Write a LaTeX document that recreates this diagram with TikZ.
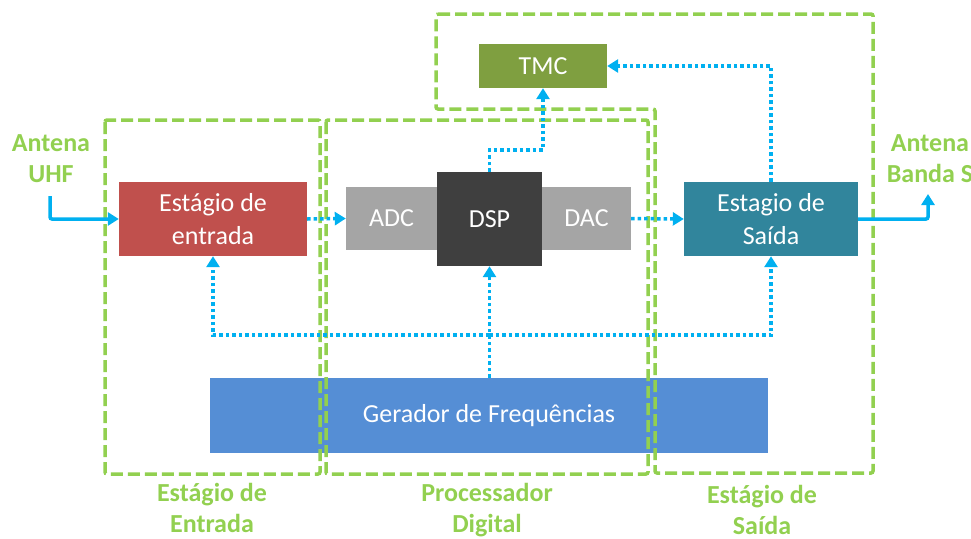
\documentclass[tikz,border=0pt]{standalone}
\usepackage{fontspec}
\setmainfont{Carlito}
\usetikzlibrary{arrows.meta}
\definecolor{grn}{HTML}{92D050}
\definecolor{sky}{HTML}{00B0F0}
\definecolor{redbox}{HTML}{C0504D}
\definecolor{graybox}{HTML}{A5A5A5}
\definecolor{darkbox}{HTML}{3F3F3F}
\definecolor{tealbox}{HTML}{31859C}
\definecolor{olivebox}{HTML}{7F9F40}
\definecolor{bluebox}{HTML}{558ED5}
\tikzset{
  blk/.style={rectangle, inner sep=0pt, text=white, align=center,
    font=\fontsize{26}{33}\selectfont},
  grpbox/.style={draw=grn, line width=3.5pt, dash pattern=on 12pt off 5pt, rounded corners=2pt},
  lbl/.style={text=grn, align=center, font=\fontsize{26}{31}\selectfont\bfseries},
  dotline/.style={draw=sky, line width=3.5pt, dash pattern=on 3.5pt off 3pt,
    -{Triangle[width=13pt,length=11pt]}},
  solline/.style={draw=sky, line width=3.5pt, rounded corners=2pt,
    -{Triangle[width=13pt,length=11pt]}}
}
\begin{document}
\begin{tikzpicture}[x=1pt,y=-1pt]
\useasboundingbox (0,0) rectangle (971,538);
% blocks
\node[blk, fill=redbox, minimum width=188pt, minimum height=74pt] (in) at (213,219) {Estágio de\\entrada};
\node[blk, fill=graybox, minimum width=91pt, minimum height=63pt] (adc) at (391.5,218.5) {ADC};
\node[blk, fill=graybox, minimum width=89pt, minimum height=63pt] (dac) at (586.5,218.5) {DAC};
\node[blk, fill=darkbox, minimum width=105pt, minimum height=94pt] (dsp) at (489.5,219) {DSP};
\node[blk, fill=tealbox, minimum width=174pt, minimum height=74pt] (out) at (771,219) {Estagio de\\Saída};
\node[blk, fill=olivebox, minimum width=128pt, minimum height=44pt] (tmc) at (543,66) {TMC};
\node[blk, fill=bluebox, minimum width=558pt, minimum height=75pt] (gen) at (489,415.5) {Gerador de Frequências};
% group boxes
\draw[grpbox] (105,120) rectangle (320,474);
\draw[grpbox] (326,120) rectangle (648,474);
\draw[grpbox] (436,14) -- (873,14) -- (873,473) -- (655,473) -- (655,109) -- (436,109) -- cycle;
% labels
\node[lbl] (antu) at (51,159) {Antena\\UHF};
\node[lbl] (ants) at (930,159) {Antena\\Banda S};
\node[lbl] (gin) at (212,508) {Estágio de\\Entrada};
\node[lbl] (gdsp) at (487,510) {Processador\\Digital};
\node[lbl] (gout) at (762,510) {Estágio de\\Saída};
% connectors
\coordinate (a1) at (50,196);
\coordinate (a2) at (928,194);
\draw[solline] (a1) |- (in.west);
\draw[solline] (out.east) -| (a2);
\draw[dotline] (in.east) -- (adc.west);
\draw[dotline] (dac.east) -- (out.west);
\coordinate (j1) at (543,150);
\draw[dotline] (dsp.north) |- (j1) -- (tmc.south);
\draw[dotline] (out.north) |- (tmc.east);
\draw[dotline] (gen.north -| dsp.south) -- (dsp.south);
\coordinate (l1) at (489,335);
\draw[dotline] (l1) -| (in.south);
\draw[dotline] (l1) -| (out.south);
\end{tikzpicture}
\end{document}
